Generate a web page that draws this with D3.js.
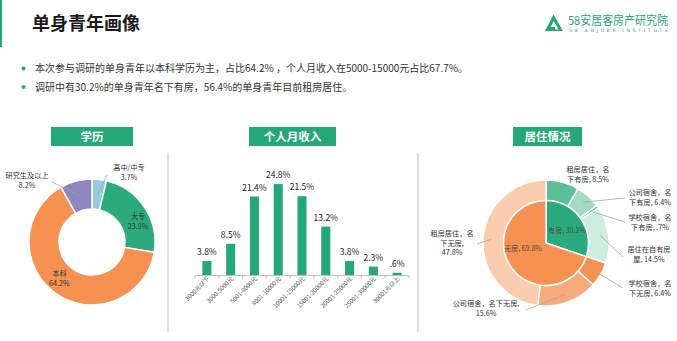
<!DOCTYPE html>
<html>
<head>
<meta charset="utf-8">
<script src="https://cdn.jsdelivr.net/npm/d3@7"></script>
<style>
  body { margin: 0; background: #fff; }
  svg { display: block; font-family: "Noto Sans CJK SC", "Noto Sans", sans-serif; }
</style>
</head>
<body>
<svg id="chart" width="677" height="341"></svg>
<script>
// ---- Text ----
const pageTitle = "单身青年画像";
const bulletLines = [
  "本次参与调研的单身青年以本科学历为主，占比64.2% ，个人月收入在5000-15000元占比67.7%。",
  "调研中有30.2%的单身青年名下有房，56.4%的单身青年目前租房居住。"
];
const panelTitles = ["学历", "个人月收入", "居住情况"];
const brandName = "58安居客房产研究院";
const brandSub = "58 ANJUKE INSTITUTE";

// ---- Education (donut) ----
const eduCategories = ["高中/中专", "大专", "本科", "研究生及以上"];
const eduValues = [3.7, 23.9, 64.2, 8.2];

// ---- Monthly income (bars) ----
const incomeCategories = ["3000元以下", "3000-5000元", "5001-8000元", "8001-10000元", "10001-15000元",
  "15001-20000元", "20001-25000元", "25001-30000元", "30001元以上"];
const incomeValues = [3.8, 8.5, 21.4, 24.8, 21.5, 13.2, 3.8, 2.3, 0.6];

// ---- Housing (two-ring sunburst) ----
const housingInnerCategories = ["有房", "无房"];
const housingInnerValues = [30.2, 69.8];
const housingOuterCategories = ["租房居住，名下有房", "公司宿舍，名下有房", "学校宿舍，名下有房", "居住在自有房屋",
  "学校宿舍，名下无房", "公司宿舍，名下无房", "租房居住，名下无房"];
const housingOuterValues = [8.5, 6.4, 0.7, 14.5, 6.4, 15.6, 47.8];

// ---- Styling ----
const GREEN = "#24A878";
const TEXT = "#333";
const LABEL_SIZE = 7.2;
const LINE_GAP = 9.6;
const eduColors = ["#93CEDD", "#2BAA7E", "#F79152", "#8D86BF"];
const innerColors = ["#2BAA7E", "#F79152"];
const outerColors = ["#5EBE98", "#A4DBC4", "#3AAE86", "#CDEDE0", "#F79152", "#F9AA7C", "#FBCBAE"];

const pct = v => {
  const s = d3.format(".1f")(v);
  return (v < 1 ? s.replace(/^0/, "") : s) + "%";
};

const svg = d3.select("#chart");

// ---- Header ----
svg.append("rect").attr("x", 0).attr("y", 0).attr("width", 2).attr("height", 47).attr("fill", GREEN);
svg.append("text").attr("x", 32).attr("y", 30)
  .attr("font-size", 18).attr("font-weight", 700).attr("fill", "#1a1a1a")
  .text(pageTitle);

// brand mark
const logo = svg.append("g");
logo.append("path").attr("d", "M545,31 L553.5,14.5 L563,31 Z").attr("fill", GREEN);
logo.append("path").attr("d", "M549.5,29.5 L553.8,21 L558.5,29.5 Z").attr("fill", "#fff");
logo.append("rect").attr("x", 549).attr("y", 27).attr("width", 6).attr("height", 3).attr("fill", GREEN);
logo.append("text").attr("x", 568).attr("y", 24.5)
  .attr("font-size", 12).attr("fill", GREEN)
  .attr("textLength", 100).attr("lengthAdjust", "spacingAndGlyphs")
  .text(brandName);
logo.append("text").attr("x", 569).attr("y", 32)
  .attr("font-size", 4.6).attr("fill", GREEN).attr("font-family", "DejaVu Sans")
  .attr("textLength", 99).attr("lengthAdjust", "spacing")
  .text(brandSub);

// bullet points
bulletLines.forEach((t, i) => {
  const y = 68.5 + i * 18.5;
  svg.append("circle").attr("cx", 23.5).attr("cy", y).attr("r", 2).attr("fill", GREEN);
  svg.append("text").attr("x", 35).attr("y", y + 3.6)
    .attr("font-size", 10).attr("fill", TEXT).text(t);
});

// ---- Panel title boxes and dividers ----
const boxes = [{ x: 51, w: 82 }, { x: 249, w: 87 }, { x: 513, w: 69 }];
boxes.forEach((b, i) => {
  svg.append("rect").attr("x", b.x).attr("y", 127).attr("width", b.w).attr("height", 19).attr("fill", GREEN);
  svg.append("text").attr("x", b.x + b.w / 2).attr("y", 141)
    .attr("text-anchor", "middle").attr("font-size", 11.5).attr("font-weight", 700).attr("fill", "#fff")
    .text(panelTitles[i]);
});
[168, 418].forEach(x => {
  svg.append("line").attr("x1", x).attr("x2", x).attr("y1", 153).attr("y2", 332)
    .attr("stroke", "#BFBFBF").attr("stroke-width", 1);
});

// ---- Education donut ----
{
  const cx = 92, cy = 242, rIn = 33, rOut = 63;
  const g = svg.append("g").attr("transform", `translate(${cx},${cy})`);
  const pie = d3.pie().sort(null).value(d => d)(eduValues);
  const arc = d3.arc().innerRadius(rIn).outerRadius(rOut);
  g.selectAll("path").data(pie).join("path")
    .attr("d", arc).attr("fill", (d, i) => eduColors[i])
    .attr("stroke", "#fff").attr("stroke-width", 1.5);

  // label placement: inside (radius + nudge) or outside (offset + leader end)
  const layout = [
    { out: true, lx: 37, ly: -72, end: [15, -67] },
    { out: false, r: 56, shift: [-0.5, 8.5] },
    { out: false, r: 50, shift: [-4, -7] },
    { out: true, lx: -65, ly: -64, end: [-40, -60] }
  ];
  pie.forEach((d, i) => {
    const L = layout[i];
    const a = (d.startAngle + d.endAngle) / 2;
    let x, y;
    if (L.out) {
      const sx = Math.sin(a) * 48, sy = -Math.cos(a) * 48;
      g.append("line").attr("x1", sx).attr("y1", sy).attr("x2", L.end[0]).attr("y2", L.end[1])
        .attr("stroke", "#A6A6A6").attr("stroke-width", 0.8);
      x = L.lx; y = L.ly;
    } else {
      x = Math.sin(a) * L.r + L.shift[0];
      y = -Math.cos(a) * L.r + L.shift[1];
    }
    const t = g.append("text").attr("text-anchor", "middle").attr("font-size", LABEL_SIZE).attr("fill", TEXT);
    t.append("tspan").attr("x", x).attr("y", y).text(eduCategories[i]);
    t.append("tspan").attr("x", x).attr("y", y + LINE_GAP).text(pct(eduValues[i]));
  });
}

// ---- Income bars ----
{
  const x = d3.scaleBand().domain(incomeCategories).range([195, 409]).paddingInner(0.62).paddingOuter(0.31);
  const y = d3.scaleLinear().domain([0, 30]).range([275, 165]);
  const g = svg.append("g");
  g.selectAll("rect.bar").data(incomeValues).join("rect").attr("class", "bar")
    .attr("x", (d, i) => x(incomeCategories[i]))
    .attr("y", d => y(d))
    .attr("width", x.bandwidth())
    .attr("height", d => y(0) - y(d))
    .attr("fill", GREEN);
  g.selectAll("text.val").data(incomeValues).join("text").attr("class", "val")
    .attr("x", (d, i) => x(incomeCategories[i]) + x.bandwidth() / 2)
    .attr("y", d => y(d) - 6)
    .attr("text-anchor", "middle").attr("font-size", 8.5).attr("fill", "#222")
    .text(d => pct(d));

  // baseline with category-boundary ticks
  const step = x.step();
  g.append("line").attr("x1", 195).attr("x2", 409).attr("y1", 275.5).attr("y2", 275.5)
    .attr("stroke", "#BFBFBF").attr("stroke-width", 1);
  d3.range(incomeCategories.length + 1).forEach(i => {
    const xx = 195 + i * step;
    g.append("line").attr("x1", xx).attr("x2", xx).attr("y1", 275.5).attr("y2", 278.5)
      .attr("stroke", "#BFBFBF").attr("stroke-width", 1);
  });

  const axis = g.append("g").attr("transform", "translate(0,278)")
    .call(d3.axisBottom(x).tickSize(0).tickPadding(0));
  axis.select(".domain").remove();
  axis.selectAll("text")
    .attr("font-size", 6).attr("fill", "#555")
    .attr("font-family", "\"Noto Sans CJK SC\", sans-serif")
    .attr("text-anchor", "end")
    .attr("dy", "0.5em").attr("dx", "0.2em")
    .attr("transform", "rotate(-45)");
}

// ---- Housing sunburst ----
{
  const cx = 546, cy = 243;
  const g = svg.append("g").attr("transform", `translate(${cx},${cy})`);
  const innerPie = d3.pie().sort(null).value(d => d)(housingInnerValues);
  const outerPie = d3.pie().sort(null).value(d => d)(housingOuterValues);
  const innerArc = d3.arc().innerRadius(0).outerRadius(42.5);
  const outerArc = d3.arc().innerRadius(42.5).outerRadius(63);

  g.selectAll("path.outer").data(outerPie).join("path").attr("class", "outer")
    .attr("d", outerArc).attr("fill", (d, i) => outerColors[i])
    .attr("stroke", "#fff").attr("stroke-width", 1.5);
  g.selectAll("path.inner").data(innerPie).join("path").attr("class", "inner")
    .attr("d", innerArc).attr("fill", (d, i) => innerColors[i])
    .attr("stroke", "#fff").attr("stroke-width", 1.5);

  // inner labels
  const innerShift = [[21, -10], [-23, 8]];
  innerPie.forEach((d, i) => {
    g.append("text").attr("x", innerShift[i][0]).attr("y", innerShift[i][1])
      .attr("text-anchor", "middle").attr("font-size", 7).attr("fill", "#4a4a4a")
      .text(`${housingInnerCategories[i]}, ${pct(housingInnerValues[i])}`);
  });

  // outer labels: label centre offset, line breaks, leader end (null = no leader)
  const layout = [
    { lx: 42, ly: -71, breaks: [6], end: null },
    { lx: 104, ly: -48, breaks: [6], end: [79, -45] },
    { lx: 104, ly: -23, breaks: [6], end: [79, -21] },
    { lx: 103, ly: 9, breaks: [6], end: [77, 14] },
    { lx: 104, ly: 43, breaks: [6], end: [77, 45] },
    { lx: -60, ly: 63, breaks: [10], end: [-21, 67] },
    { lx: -94, ly: -7, breaks: [6, 10], end: [-69, 1] }
  ];
  outerPie.forEach((d, i) => {
    const L = layout[i];
    const a = (d.startAngle + d.endAngle) / 2;
    if (L.end) {
      g.append("line")
        .attr("x1", Math.sin(a) * 55).attr("y1", -Math.cos(a) * 55)
        .attr("x2", L.end[0]).attr("y2", L.end[1])
        .attr("stroke", "#A6A6A6").attr("stroke-width", 0.8);
    }
    const full = `${housingOuterCategories[i]}, ${pct(housingOuterValues[i])}`;
    const cuts = [0, ...L.breaks, full.length];
    const lines = d3.range(cuts.length - 1).map(k => full.slice(cuts[k], cuts[k + 1]).trim());
    const t = g.append("text").attr("text-anchor", "middle").attr("font-size", LABEL_SIZE).attr("fill", TEXT);
    lines.forEach((s, k) => {
      t.append("tspan").attr("x", L.lx).attr("y", L.ly + k * LINE_GAP).text(s);
    });
  });
}
</script>
</body>
</html>
